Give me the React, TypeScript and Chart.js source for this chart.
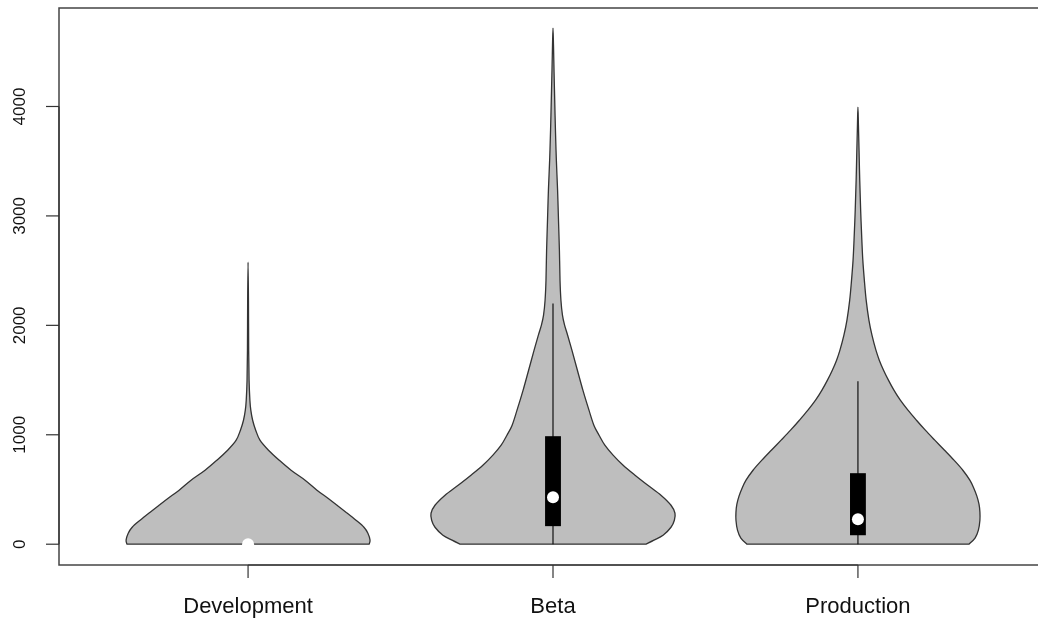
import React, { useEffect, useRef } from "react";
import { Chart, registerables } from "chart.js";

Chart.register(...registerables);

// ---------- data ----------
const categories = ["Development", "Beta", "Production"];
const yTickValues = [0, 1000, 2000, 3000, 4000];

// violin outlines: value levels and half-widths (in category units)
const devLevels = [0, 37, 101, 155, 219, 293, 356, 420, 494, 585, 676, 768, 859, 951, 1042, 1133, 1225, 1316, 1499, 1773, 2230, 2578];
const devHalfWidths = [0.397, 0.4, 0.393, 0.38, 0.354, 0.321, 0.292, 0.262, 0.226, 0.187, 0.141, 0.102, 0.067, 0.039, 0.025, 0.015, 0.009, 0.006, 0.0033, 0.002, 0.0013, 0];

const betaLevels = [0, 37, 82, 155, 219, 283, 356, 448, 539, 631, 722, 814, 905, 996, 1088, 1225, 1408, 1590, 1773, 1910, 2002, 2093, 2230, 2413, 2687, 2962, 3236, 3510, 3784, 4059, 4333, 4561, 4717];
const betaHalfWidths = [0.305, 0.331, 0.361, 0.387, 0.398, 0.4, 0.387, 0.354, 0.311, 0.269, 0.23, 0.197, 0.17, 0.151, 0.134, 0.118, 0.098, 0.08, 0.062, 0.048, 0.038, 0.031, 0.026, 0.023, 0.021, 0.018, 0.015, 0.011, 0.008, 0.0056, 0.0033, 0.0016, 0];

const prodLevels = [0, 55, 128, 219, 293, 366, 439, 512, 585, 676, 768, 859, 951, 1042, 1133, 1225, 1316, 1408, 1499, 1590, 1682, 1773, 1910, 2048, 2230, 2413, 2596, 2779, 3053, 3327, 3601, 3830, 3995];
const prodHalfWidths = [0.364, 0.384, 0.395, 0.4, 0.4, 0.397, 0.39, 0.38, 0.367, 0.344, 0.315, 0.284, 0.252, 0.221, 0.192, 0.164, 0.139, 0.118, 0.1, 0.084, 0.07, 0.059, 0.046, 0.036, 0.027, 0.021, 0.016, 0.0128, 0.0089, 0.0059, 0.0036, 0.0016, 0];

// box plot statistics
const whiskerLow = [0, 0, 0];
const q1 = [0, 165, 82];
const medians = [0, 430, 228];
const q3 = [0, 987, 649];
const whiskerHigh = [0, 2200, 1490];

const violinLevels = [devLevels, betaLevels, prodLevels];
const violinHalfWidths = [devHalfWidths, betaHalfWidths, prodHalfWidths];

// ---------- helpers ----------
type P = { x: number; y: number };

function smoothPath(ctx: CanvasRenderingContext2D, pts: P[]) {
  ctx.moveTo(pts[0].x, pts[0].y);
  for (let i = 0; i < pts.length - 1; i++) {
    const p0 = pts[i - 1] || pts[i];
    const p1 = pts[i];
    const p2 = pts[i + 1];
    const p3 = pts[i + 2] || p2;
    const t = 1 / 6;
    ctx.bezierCurveTo(
      p1.x + (p2.x - p0.x) * t,
      p1.y + (p2.y - p0.y) * t,
      p2.x - (p3.x - p1.x) * t,
      p2.y - (p3.y - p1.y) * t,
      p2.x,
      p2.y
    );
  }
}

const violinPlugin = {
  id: "violins",
  beforeDatasetsDraw(chart: any) {
    const { ctx, scales } = chart;
    const xs = scales.x;
    const ys = scales.y;
    ctx.save();
    for (let i = 0; i < categories.length; i++) {
      const c = i + 1;
      const lv = violinLevels[i];
      const hw = violinHalfWidths[i];
      const left: P[] = lv.map((v, k) => ({ x: xs.getPixelForValue(c - hw[k]), y: ys.getPixelForValue(v) }));
      const right: P[] = lv.map((v, k) => ({ x: xs.getPixelForValue(c + hw[k]), y: ys.getPixelForValue(v) })).reverse();
      const pts = left.concat(right.slice(1));
      ctx.beginPath();
      smoothPath(ctx, pts);
      ctx.closePath();
      ctx.fillStyle = "#bebebe";
      ctx.fill();
      ctx.lineWidth = 1.3;
      ctx.strokeStyle = "#333";
      ctx.lineJoin = "round";
      ctx.stroke();

      // whisker
      const cx = xs.getPixelForValue(c);
      ctx.beginPath();
      ctx.moveTo(cx, ys.getPixelForValue(whiskerLow[i]));
      ctx.lineTo(cx, ys.getPixelForValue(whiskerHigh[i]));
      ctx.lineWidth = 1.2;
      ctx.strokeStyle = "#111";
      ctx.stroke();

      // box
      const bl = xs.getPixelForValue(c - 0.026);
      const br = xs.getPixelForValue(c + 0.026);
      const bt = ys.getPixelForValue(q3[i]);
      const bb = ys.getPixelForValue(q1[i]);
      ctx.fillStyle = "#000";
      ctx.fillRect(bl, bt, br - bl, bb - bt);
    }
    ctx.restore();
  },
  afterDraw(chart: any) {
    const { ctx, scales, chartArea } = chart;
    const xs = scales.x;
    const ys = scales.y;
    ctx.save();
    // frame
    ctx.strokeStyle = "#444";
    ctx.lineWidth = 1.5;
    ctx.strokeRect(chartArea.left, chartArea.top, chartArea.right - chartArea.left, chartArea.bottom - chartArea.top);

    // y axis ticks & labels
    ctx.strokeStyle = "#333";
    ctx.lineWidth = 1.2;
    ctx.fillStyle = "#111";
    ctx.font = '17px "Liberation Sans", Arial, sans-serif';
    ctx.textAlign = "center";
    ctx.textBaseline = "alphabetic";
    for (const v of yTickValues) {
      const py = ys.getPixelForValue(v);
      ctx.beginPath();
      ctx.moveTo(chartArea.left - 13, py);
      ctx.lineTo(chartArea.left, py);
      ctx.stroke();
      ctx.save();
      ctx.translate(chartArea.left - 34, py);
      ctx.rotate(-Math.PI / 2);
      ctx.fillText(String(v), 0, 0);
      ctx.restore();
    }
    ctx.beginPath();
    ctx.moveTo(chartArea.left, ys.getPixelForValue(yTickValues[0]));
    ctx.lineTo(chartArea.left, ys.getPixelForValue(yTickValues[yTickValues.length - 1]));
    ctx.stroke();

    // x axis ticks & labels
    ctx.font = '22px "Liberation Sans", Arial, sans-serif';
    for (let i = 0; i < categories.length; i++) {
      const px = xs.getPixelForValue(i + 1);
      ctx.beginPath();
      ctx.moveTo(px, chartArea.bottom);
      ctx.lineTo(px, chartArea.bottom + 13);
      ctx.stroke();
      ctx.fillText(categories[i], px, chartArea.bottom + 48);
    }
    ctx.beginPath();
    ctx.moveTo(xs.getPixelForValue(1), chartArea.bottom);
    ctx.lineTo(xs.getPixelForValue(categories.length), chartArea.bottom);
    ctx.stroke();
    ctx.restore();
  },
};

export default function App() {
  const ref = useRef<HTMLCanvasElement | null>(null);
  useEffect(() => {
    if (!ref.current) return;
    const chart = new Chart(ref.current, {
      type: "scatter",
      data: {
        datasets: [
          {
            label: "median",
            data: medians.map((m, i) => ({ x: i + 1, y: m })),
            pointRadius: 6,
            pointBackgroundColor: "#ffffff",
            pointBorderWidth: 0,
            pointBorderColor: "#ffffff",
          },
        ],
      },
      options: {
        responsive: false,
        maintainAspectRatio: false,
        animation: false,
        devicePixelRatio: 1,
        layout: { padding: { left: 59, top: 8, right: 13, bottom: 53 } },
        plugins: { legend: { display: false }, tooltip: { enabled: false } },
        scales: {
          x: { type: "linear", min: 0.38, max: 3.62, display: false },
          y: { type: "linear", min: -190, max: 4900, display: false },
        },
      },
      plugins: [violinPlugin],
    });
    return () => chart.destroy();
  }, []);
  return (
    <div style={{ position: "fixed", left: 0, top: 0, width: 1038, height: 618, overflow: "hidden", background: "#fff" }}>
      <canvas ref={ref} width={1060} height={618} style={{ display: "block", width: 1060, height: 618 }} />
    </div>
  );
}
